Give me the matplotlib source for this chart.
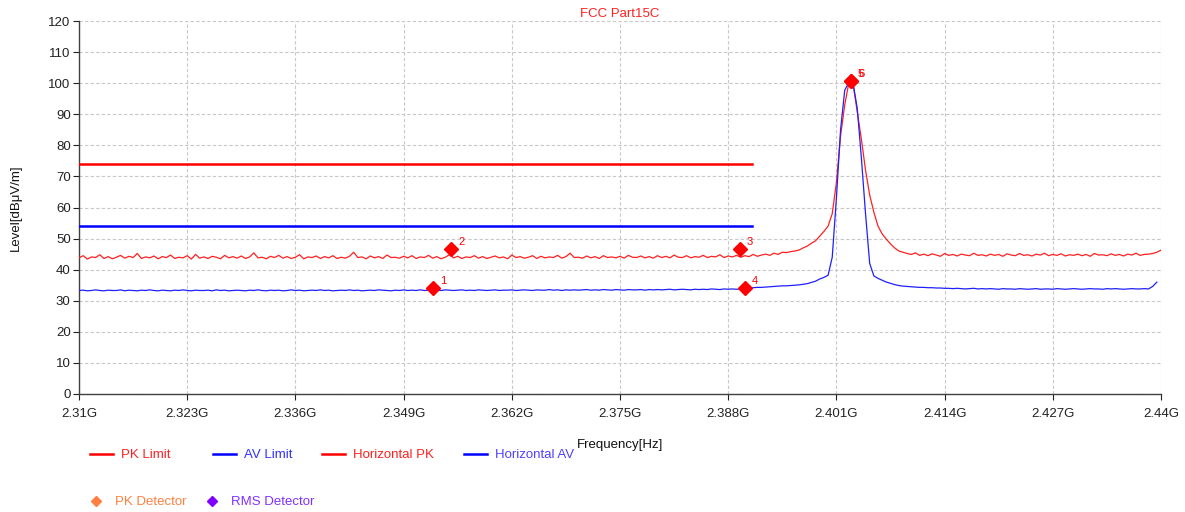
import numpy as np
import matplotlib
matplotlib.use("Agg")
import matplotlib.pyplot as plt
from matplotlib.lines import Line2D

plt.rcParams['font.family'] = ['Liberation Sans', 'DejaVu Sans']

# ---------------- data ----------------
FREQ_START_MHZ = 2310.0
FREQ_STEP_MHZ = 0.5

horizontal_pk = [
    43.8, 44.5, 43.4, 44.1, 43.9, 44.8, 43.6, 44.2, 43.5, 44.0, 44.6, 43.7, 44.3, 43.9, 45.2, 43.6, 44.1, 43.8, 44.4, 43.5,
    44.2, 43.9, 44.7, 43.6, 44.0, 43.8, 44.5, 43.4, 44.9, 43.7, 44.1, 43.6, 44.3, 44.0, 43.5, 44.6, 43.8, 44.2, 43.7, 44.4,
    43.6, 44.1, 45.4, 43.8, 44.0, 43.5, 44.3, 43.9, 44.6, 43.7, 44.2, 43.6, 44.0, 44.8, 43.5, 44.1, 43.9, 44.4, 43.6, 44.2,
    43.8, 44.5, 43.6, 44.0, 43.7, 44.3, 45.6, 43.9, 44.1, 43.5, 44.4, 43.8, 44.2, 43.6, 44.7, 43.9, 44.0, 43.7, 44.3, 43.8,
    44.5, 43.6, 44.1, 43.9, 44.6, 43.7, 44.2, 43.5, 44.0, 44.8, 43.8, 44.3, 43.6, 44.1, 43.9, 44.5, 43.7, 44.2, 43.6, 44.0,
    44.4, 43.8, 44.1, 43.5, 44.7, 43.9, 44.2, 43.7, 44.0, 44.5, 43.6, 44.3, 43.8, 44.1, 43.9, 44.6, 43.7, 44.2, 45.3, 43.9,
    44.0, 43.7, 44.4, 43.8, 44.2, 43.6, 44.5, 43.9, 44.1, 43.8, 44.3, 43.7, 44.6, 44.0, 43.9, 44.4, 43.8, 44.2, 43.7, 44.5,
    43.9, 44.3, 43.8, 44.7, 44.0, 43.9, 44.5, 43.8, 44.2, 44.0, 44.6, 43.9, 44.3, 44.1, 44.8, 43.9, 44.4, 44.1, 44.6, 44.0,
    44.5, 44.2, 44.9, 44.3, 44.7, 45.0, 44.6, 45.3, 44.9, 45.6, 45.5, 45.8, 46.0, 46.3, 47.0, 47.6, 48.5, 49.3, 50.8, 52.3,
    54.0, 58.0, 68.0, 83.0, 93.0, 100.2, 99.8, 91.0, 82.0, 72.0, 64.0, 58.5, 54.0, 51.5, 49.8, 48.3, 47.0, 46.0, 45.6,
    45.2, 44.9, 45.4, 44.6, 45.0, 44.5, 45.1, 44.7, 44.3, 45.2, 44.6, 44.9, 44.4, 45.0, 44.7, 44.5, 45.3, 44.6, 44.8, 44.4,
    45.0, 44.6, 44.9, 44.3, 45.1, 44.7, 44.5, 45.2, 44.6, 44.8, 44.4, 45.0, 44.7, 45.3, 44.5, 44.9, 44.6, 45.1, 44.4, 44.8,
    44.6, 45.0, 44.5, 44.9, 44.3, 45.2, 44.7, 44.8, 44.5, 45.1, 44.6, 44.9, 44.4, 45.0, 44.7, 45.3, 44.6, 44.9, 45.0, 45.2,
    45.6, 46.3,
]

horizontal_av = [
    33.3, 33.4, 33.2, 33.3, 33.5, 33.3, 33.2, 33.4, 33.3, 33.3, 33.5, 33.2, 33.4, 33.3, 33.2, 33.4, 33.3, 33.5, 33.3, 33.2,
    33.4, 33.3, 33.2, 33.4, 33.3, 33.5, 33.3, 33.2, 33.4, 33.3, 33.3, 33.4, 33.2, 33.5, 33.3, 33.4, 33.2, 33.3, 33.4, 33.3,
    33.2, 33.4, 33.3, 33.5, 33.3, 33.2, 33.4, 33.3, 33.4, 33.2, 33.3, 33.5, 33.3, 33.4, 33.2, 33.3, 33.4, 33.3, 33.5, 33.3,
    33.4, 33.2, 33.3, 33.4, 33.3, 33.5, 33.3, 33.4, 33.2, 33.3, 33.4, 33.3, 33.5, 33.4, 33.3, 33.2, 33.4, 33.3, 33.5, 33.3,
    33.4, 33.3, 33.5, 33.3, 33.4, 33.2, 33.4, 33.3, 33.5, 33.4, 33.3, 33.4, 33.5, 33.3, 33.4, 33.3, 33.5, 33.4, 33.3, 33.4,
    33.5, 33.3, 33.4, 33.4, 33.5, 33.3, 33.4, 33.5, 33.4, 33.3, 33.5, 33.4, 33.4, 33.6, 33.4, 33.5, 33.3, 33.5, 33.4, 33.5,
    33.4, 33.5, 33.6, 33.4, 33.5, 33.4, 33.6, 33.5, 33.4, 33.6, 33.5, 33.4, 33.6, 33.5, 33.5, 33.6, 33.4, 33.6, 33.5, 33.6,
    33.5, 33.6, 33.7, 33.5, 33.6, 33.7, 33.6, 33.5, 33.7, 33.6, 33.7, 33.6, 33.8, 33.7, 33.6, 33.8, 33.7, 33.8, 33.7, 33.8,
    33.9, 34.0, 34.2, 34.3, 34.3, 34.4, 34.5, 34.6, 34.7, 34.8, 34.8, 34.9, 35.0, 35.1, 35.3, 35.5, 35.9, 36.3, 37.0, 37.5,
    38.2, 44.0, 63.0, 85.0, 97.7, 100.3, 100.0, 92.0, 76.0, 58.0, 42.0, 38.0, 37.2, 36.6, 36.0, 35.6, 35.2, 34.9, 34.7,
    34.6, 34.5, 34.4, 34.3, 34.3, 34.2, 34.2, 34.1, 34.1, 34.0, 34.0, 33.9, 34.0, 33.9, 33.8, 33.9, 34.0, 33.8, 33.9, 33.8,
    33.9, 33.8, 33.7, 33.9, 33.8, 33.8, 33.7, 33.9, 33.8, 33.7, 33.8, 33.9, 33.7, 33.8, 33.8, 33.7, 33.9, 33.8, 33.7, 33.8,
    33.9, 33.8, 33.7, 33.8, 33.9, 33.8, 33.8, 33.7, 33.9, 33.8, 33.9, 33.8, 33.7, 33.8, 33.9, 33.8, 33.8, 33.9, 33.8, 34.6,
    36.0,
]

limit_freq_ghz = [2.31, 2.3908]
pk_limit = [74.0, 74.0]
av_limit = [54.0, 54.0]

marker_freq_ghz = [2.3525, 2.3547, 2.3894, 2.3900, 2.40275, 2.40275]
marker_level = [34.0, 46.6, 46.6, 34.0, 100.6, 100.6]
marker_labels = ["1", "2", "3", "4", "5", "6"]

x_ticks = [2.31, 2.323, 2.336, 2.349, 2.362, 2.375, 2.388, 2.401, 2.414, 2.427, 2.44]
x_tick_labels = ["2.31G", "2.323G", "2.336G", "2.349G", "2.362G", "2.375G",
                 "2.388G", "2.401G", "2.414G", "2.427G", "2.44G"]
y_ticks = [0, 10, 20, 30, 40, 50, 60, 70, 80, 90, 100, 110, 120]

# ---------------- figure ----------------
n = len(horizontal_pk)
freq_ghz = (FREQ_START_MHZ + FREQ_STEP_MHZ * np.arange(n)) / 1000.0

fig = plt.figure(figsize=(11.85, 5.12), dpi=100)
ax = fig.add_axes([79 / 1185, 118 / 512, (1161 - 79) / 1185, (394 - 21) / 512])

RED = "#FF0000"
BLUE = "#0000FF"
TXT = "#222222"
FS = 9.5

ax.plot(limit_freq_ghz, pk_limit, color=RED, lw=1.8, zorder=3)
ax.plot(limit_freq_ghz, av_limit, color=BLUE, lw=1.8, zorder=3)
ax.plot(freq_ghz, horizontal_pk, color="#FF2020", lw=0.9, zorder=4)
ax.plot(freq_ghz[:len(horizontal_av)], horizontal_av, color="#2020FF", lw=0.9, zorder=4)

ax.plot(marker_freq_ghz, marker_level, linestyle="none", marker="D", markersize=7,
        color=RED, zorder=6)
for f, lv, lab in zip(marker_freq_ghz, marker_level, marker_labels):
    ax.annotate(lab, (f, lv), xytext=(5, 3), textcoords="offset points",
                color=RED, fontsize=8, zorder=7)

ax.set_xlim(2.31, 2.44)
ax.set_ylim(0, 120)
ax.set_xticks(x_ticks)
ax.set_xticklabels(x_tick_labels)
ax.set_yticks(y_ticks)
ax.tick_params(axis="both", labelsize=FS, colors=TXT, length=4, width=0.8,
               direction="out")
ax.tick_params(axis="x", pad=6)
ax.tick_params(axis="y", pad=2)

ax.grid(True, color="#C8C8C8", linestyle=(0, (3, 2)), linewidth=0.8)
ax.set_axisbelow(True)
for s in ["top", "right"]:
    ax.spines[s].set_visible(False)
for s in ["left", "bottom"]:
    ax.spines[s].set_color("#404040")
    ax.spines[s].set_linewidth(1.0)

ax.set_title("FCC Part15C", color="#FF2020", fontsize=FS, pad=3)
ax.set_xlabel("Frequency[Hz]", fontsize=FS, color="#111111", labelpad=14)
ax.set_ylabel("Level[dBμV/m]", fontsize=FS, color="#111111", labelpad=19)

# ---------------- legend ----------------
legend_entries = [
    (90, 455, Line2D([], [], color=RED, lw=1.8), "PK Limit", "#FF2020"),
    (213, 455, Line2D([], [], color=BLUE, lw=1.8), "AV Limit", "#3030FF"),
    (322, 455, Line2D([], [], color=RED, lw=1.8), "Horizontal PK", "#FF2020"),
    (464, 455, Line2D([], [], color=BLUE, lw=1.8), "Horizontal AV", "#5040FF"),
    (84, 502, Line2D([], [], linestyle="none", marker="D", markersize=5, color="#FF8040"),
     "PK Detector", "#FF8040"),
    (200, 502, Line2D([], [], linestyle="none", marker="D", markersize=5, color="#8000FF"),
     "RMS Detector", "#8030FF"),
]
for px, py, h, lab, col in legend_entries:
    leg = fig.legend(handles=[h], labels=[lab], loc="center left",
                     bbox_to_anchor=(px / 1185, 1 - py / 512), frameon=False,
                     fontsize=FS, borderpad=0, borderaxespad=0,
                     handlelength=1.75, handletextpad=0.6)
    for t in leg.get_texts():
        t.set_color(col)

fig.savefig("out.png", dpi=100)
